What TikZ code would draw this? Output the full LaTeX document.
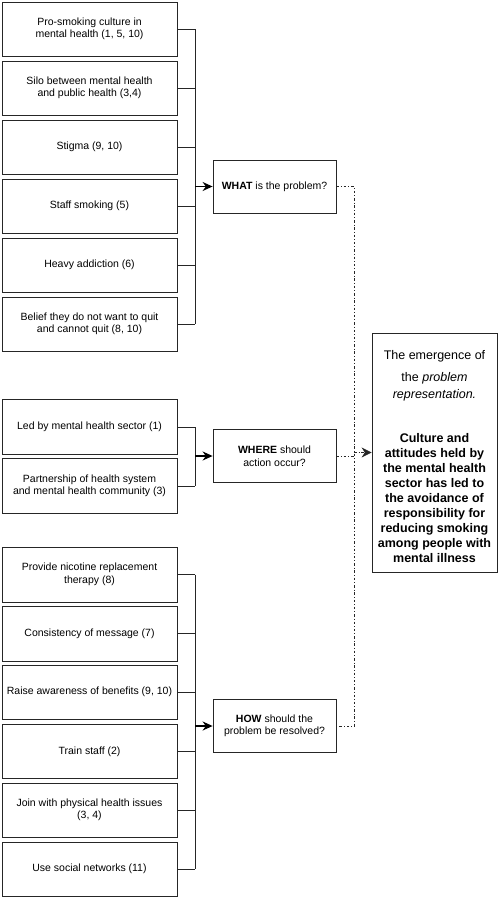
\documentclass[tikz,border=0pt]{standalone}
\usepackage{fontspec}
\setmainfont{Liberation Sans}
\usetikzlibrary{arrows.meta}
\begin{document}
\begin{tikzpicture}[x=1pt,y=-1pt,
  leftbox/.style={draw=black!85, line width=0.8pt, minimum width=175pt, minimum height=54pt,
    inner sep=2pt, align=center, font=\fontsize{10.5}{12.5}\selectfont},
  midbox/.style={draw=black!85, line width=0.8pt, minimum width=123pt, minimum height=53pt,
    inner sep=2pt, align=center, font=\fontsize{10.5}{12.5}\selectfont},
  resbox/.style={draw=black!85, line width=0.8pt, minimum width=125pt, minimum height=239pt,
    inner sep=2pt, align=center, font=\fontsize{12.5}{15}\selectfont},
  conn/.style={draw=black!85, line width=0.8pt},
  arr/.style={draw=black, line width=1.4pt, -{Stealth[length=10pt,width=9pt]}},
  dots/.style={draw=black!85, line width=0.8pt, dash pattern=on 2.5pt off 2pt on 0.8pt off 2pt},
]
\useasboundingbox (0,0) rectangle (500,897);

% WHAT group
\node[leftbox] (a1) at (89.5,29)  {Pro-smoking culture in\\mental health (1, 5, 10)};
\node[leftbox] (a2) at (89.5,88)  {Silo between mental health\\and public health (3,4)};
\node[leftbox] (a3) at (89.5,147) {Stigma (9, 10)};
\node[leftbox] (a4) at (89.5,206) {Staff smoking (5)};
\node[leftbox] (a5) at (89.5,265) {Heavy addiction (6)};
\node[leftbox] (a6) at (89.5,324) {Belief they do not want to quit\\and cannot quit (8, 10)};
\node[midbox] (what) at (274.5,186.5) {\textbf{WHAT} is the problem?};
\coordinate (ja) at (195,186.5);
\foreach \n in {a1,a2,a3,a4,a5,a6} \draw[conn] (\n.east) -- (\n.east -| ja);
\draw[conn] (a1.east -| ja) -- (a6.east -| ja);
\draw[arr] (ja) -- (what.west);

% WHERE group
\node[leftbox, minimum height=55pt] (b1) at (89.5,427) {Led by mental health sector (1)};
\node[leftbox, minimum height=55pt] (b2) at (89.5,486) {Partnership of health system\\and mental health community (3)};
\node[midbox] (where) at (274.5,456) {\textbf{WHERE} should\\action occur?};
\coordinate (jb) at (195,456);
\foreach \n in {b1,b2} \draw[conn] (\n.east) -- (\n.east -| jb);
\draw[conn] (b1.east -| jb) -- (b2.east -| jb);
\draw[arr] (jb) -- (where.west);

% HOW group
\node[leftbox, minimum height=55pt] (c1) at (89.5,574.5) {Provide nicotine replacement\\therapy (8)};
\node[leftbox, minimum height=55pt] (c2) at (89.5,633.5) {Consistency of message (7)};
\node[leftbox] (c3) at (89.5,692)   {Raise awareness of benefits (9, 10)};
\node[leftbox] (c4) at (89.5,751.5) {Train staff (2)};
\node[leftbox] (c5) at (89.5,810)   {Join with physical health issues\\(3, 4)};
\node[leftbox] (c6) at (89.5,869)   {Use social networks (11)};
\node[midbox] (how) at (274.5,726) {\textbf{HOW} should the\\problem be resolved?};
\coordinate (jc) at (195,726);
\foreach \n in {c1,c2,c3,c4,c5,c6} \draw[conn] (\n.east) -- (\n.east -| jc);
\draw[conn] (c1.east -| jc) -- (c6.east -| jc);
\draw[arr] (jc) -- (how.west);

% Result box
\node[resbox] (res) at (434.5,452.5) {\rule{0pt}{18pt}The emergence of\\[7pt]the \textit{problem}\\[2pt]\textit{representation.}\\[29pt]%
\textbf{Culture and}\\\textbf{attitudes held by}\\\textbf{the mental health}\\\textbf{sector has led to}\\%
\textbf{the avoidance of}\\\textbf{responsibility for}\\\textbf{reducing smoking}\\\textbf{among people with}\\%
\textbf{mental illness}};

% Dotted connectors
\coordinate (dv) at (354,186.5);
\draw[dots] (what.east) -- (what.east -| dv) -- (how.east -| dv) -- (how.east);
\draw[dots] (where.east) -- (where.east -| dv);
\draw[dots, -{Stealth[length=10pt,width=10pt]}] (dv |- res.west) -- (res.west);
\end{tikzpicture}
\end{document}
